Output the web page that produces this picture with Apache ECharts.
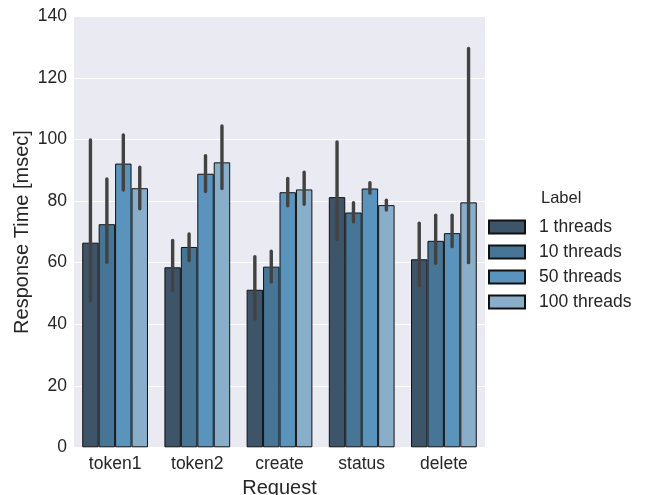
<!DOCTYPE html>
<html>
<head>
<meta charset="utf-8">
<script src="https://cdn.jsdelivr.net/npm/echarts@6/dist/echarts.min.js"></script>
<style>
  html, body { margin: 0; padding: 0; background: #fff; }
  #chart { width: 646px; height: 495px; }
</style>
</head>
<body>
<div id="chart"></div>
<script>
// Request types on the x axis
const categories = ['token1', 'token2', 'create', 'status', 'delete'];
// Thread-count groups
const seriesNames = ['1 threads', '10 threads', '50 threads', '100 threads'];
const colors = ['#3e5468', '#477596', '#5a93bb', '#89aeca'];

// Mean response time (msec) per request, one array per thread group
const mean1 = [66.5, 58.5, 51.2, 81.3, 61.1];
const mean10 = [72.5, 65.1, 58.7, 76.3, 67.1];
const mean50 = [92.2, 88.9, 82.9, 84.1, 69.6];
const mean100 = [84.2, 92.6, 83.8, 78.7, 79.6];

// Confidence interval bounds (low, high)
const low1 = [47.6, 50.9, 41.7, 67.6, 52.5];
const high1 = [99.9, 67.2, 61.9, 99.2, 72.8];
const low10 = [60.1, 60.7, 53.7, 73.3, 59.8];
const high10 = [87.2, 69.3, 63.7, 79.5, 75.4];
const low50 = [83.6, 83.1, 78.5, 82.6, 65.2];
const high50 = [101.5, 94.8, 87.4, 86.0, 75.4];
const low100 = [77.5, 84.1, 79.0, 77.1, 60.0];
const high100 = [91.0, 104.4, 89.4, 80.3, 129.6];

const yTicks = [0, 20, 40, 60, 80, 100, 120, 140];

const means = [mean1, mean10, mean50, mean100];
const lows = [low1, low10, low50, low100];
const highs = [high1, high10, high50, high100];

const textColor = '#262626';
const fontFamily = '"Liberation Sans", Arial, sans-serif';

const barSeries = seriesNames.map((name, i) => ({
  name: name,
  type: 'bar',
  data: means[i],
  barGap: '0%',
  barCategoryGap: '20%',
  itemStyle: { color: colors[i], borderColor: '#111', borderWidth: 1 },
  z: 2
}));

// Error bars: one custom series per thread group, placed on its bar's centre
const errSeries = seriesNames.map((name, i) => ({
  type: 'custom',
  name: name + ' ci',
  data: categories.map((c, k) => [k, lows[i][k], highs[i][k]]),
  z: 5,
  silent: true,
  renderItem: function (params, api) {
    const k = api.value(0);
    const bandW = api.size([1, 0])[0];
    const barW = bandW * 0.8 / 4;
    const off = (i - 1.5) * barW;
    const p1 = api.coord([k, api.value(1)]);
    const p2 = api.coord([k, api.value(2)]);
    return {
      type: 'line',
      shape: { x1: p1[0] + off, y1: p1[1], x2: p2[0] + off, y2: p2[1] },
      style: { stroke: '#424242', lineWidth: 3.4, lineCap: 'round' }
    };
  }
}));

const chart = echarts.init(document.getElementById('chart'));
chart.setOption({
  animation: false,
  textStyle: { fontFamily: fontFamily },
  grid: {
    left: 74, right: 161, top: 16.5, bottom: 47.7,
    containLabel: false, outerBoundsMode: 'none',
    show: true, backgroundColor: '#eaeaf2', borderWidth: 0
  },
  legend: {
    data: seriesNames,
    orient: 'vertical',
    left: 483,
    top: 212,
    itemWidth: 36,
    itemHeight: 13,
    itemGap: 5,
    textStyle: { fontSize: 17.5, lineHeight: 20, color: textColor, fontFamily: fontFamily, padding: [0, 0, 0, 9] },
    icon: 'rect'
  },
  graphic: [{
    type: 'text',
    left: 541,
    top: 190,
    style: { text: 'Label', fontSize: 16.5, fill: textColor, fontFamily: fontFamily }
  }, {
    // y-axis title, rotated and centred on the plot height
    type: 'text',
    x: 22,
    y: 232,
    rotation: Math.PI / 2,
    style: {
      text: 'Response Time [msec]', fontSize: 20, fill: textColor, fontFamily: fontFamily,
      align: 'center', verticalAlign: 'middle'
    }
  }],
  xAxis: {
    type: 'category',
    data: categories,
    name: 'Request',
    nameLocation: 'middle',
    nameGap: 29,
    nameTextStyle: { fontSize: 20, color: textColor },
    axisLine: { show: false },
    axisTick: { show: false },
    axisLabel: { fontSize: 17.5, color: textColor, margin: 8 }
  },
  yAxis: {
    type: 'value',
    min: yTicks[0],
    max: yTicks[yTicks.length - 1],
    interval: 20,
    axisLine: { show: false },
    axisTick: { show: false },
    axisLabel: { fontSize: 17.5, color: textColor, margin: 7 },
    splitLine: { lineStyle: { color: '#ffffff', width: 1.2 } }
  },
  series: barSeries.concat(errSeries)
});
</script>
</body>
</html>
